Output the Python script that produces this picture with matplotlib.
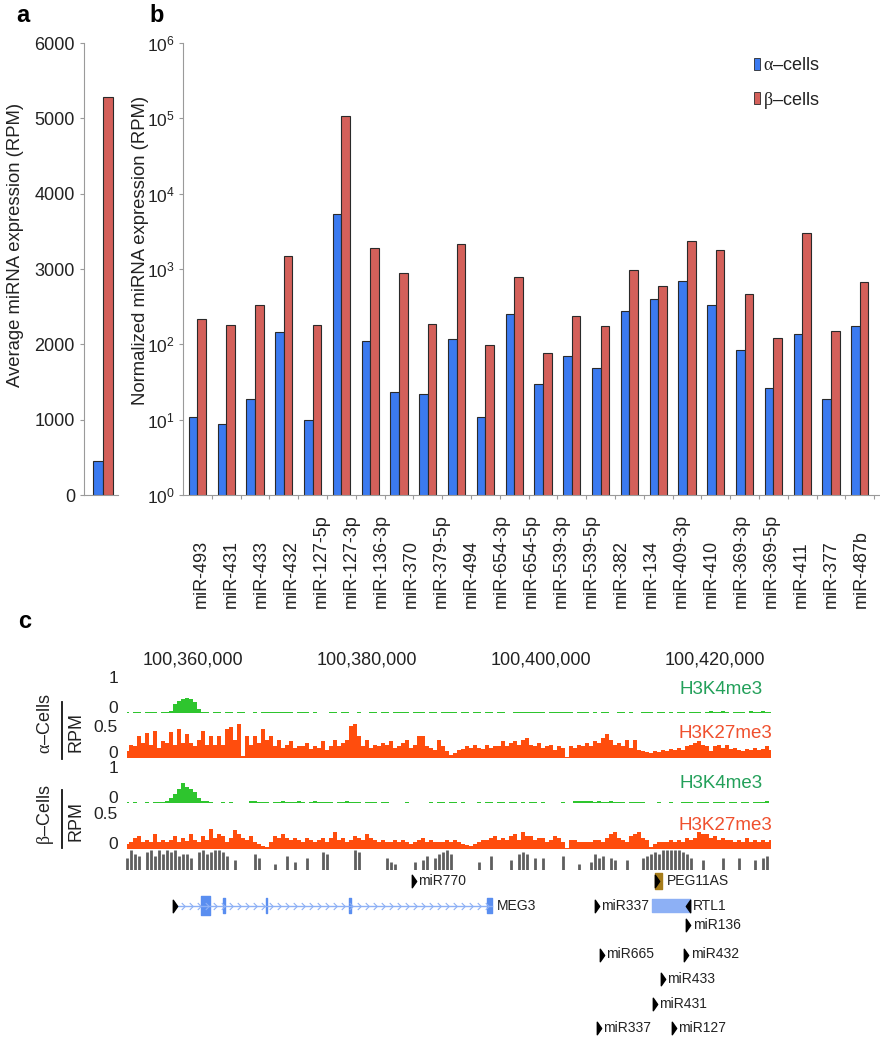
import numpy as np
import matplotlib
matplotlib.use('Agg')
import matplotlib.pyplot as plt
import matplotlib.transforms as mtransforms
from matplotlib.patches import Patch
from matplotlib.lines import Line2D
from matplotlib.path import Path

plt.rcParams['font.family'] = ['Liberation Sans', 'DejaVu Sans']
plt.rcParams['mathtext.fontset'] = 'custom'
plt.rcParams['mathtext.rm'] = 'Liberation Serif'

# ---------------- data ----------------
# panel a
avg_groups = ['alpha', 'beta']
avg_rpm = [455, 5285]

# panel b (24 bar pairs, 23 labels as printed)
mir_labels = ['miR-493', 'miR-431', 'miR-433', 'miR-432', 'miR-127-5p', 'miR-127-3p',
              'miR-136-3p', 'miR-370', 'miR-379-5p', 'miR-494', 'miR-654-3p', 'miR-654-5p',
              'miR-539-3p', 'miR-539-5p', 'miR-382', 'miR-134', 'miR-409-3p', 'miR-410',
              'miR-369-3p', 'miR-369-5p', 'miR-411', 'miR-377', 'miR-487b']
alpha_rpm = [11, 8.7, 18.6, 145, 10, 5450, 110, 23, 22, 116, 11, 254,
             30, 71, 48, 273, 395, 690, 328, 83, 26, 139, 18.6, 174]
beta_rpm = [218, 178, 328, 1480, 178, 109000, 1910, 890, 188, 2150, 99, 780,
            76, 241, 174, 960, 590, 2340, 1780, 472, 123, 3020, 149, 668]

# panel c: binned ChIP-seq signal (RPM), 460 bp bins
START = 100352200
BIN = 460
coord_ticks = [100360000, 100380000, 100400000, 100420000]

h3k4_alpha = [0.04, 0, 0.04, 0.04, 0, 0.04, 0.04, 0.04, 0, 0.04, 0.04,
              0.06, 0.25, 0.33, 0.38, 0.42, 0.38, 0.30, 0.12, 0.04,
              0.04, 0, 0.04, 0.04, 0, 0.04, 0.03, 0, 0.04, 0.04,
              0, 0, 0.04, 0, 0.04, 0.04, 0.03, 0.04, 0.04, 0.04,
              0.04, 0.04, 0, 0.04, 0.04, 0.04, 0, 0.04, 0, 0,
              0, 0.04, 0.04, 0, 0.04, 0.03, 0, 0, 0.04, 0,
              0, 0.04, 0.04, 0, 0.04, 0.04, 0, 0.04, 0.04, 0.03,
              0.04, 0, 0.04, 0.04, 0.04, 0, 0.04, 0.04, 0, 0.04,
              0.04, 0.04,
              0.04, 0, 0.04, 0.04, 0, 0.04, 0.04, 0, 0.04, 0.03,
              0, 0.04, 0.04, 0, 0, 0.04, 0.04, 0.04, 0.04, 0.04,
              0.04, 0.03, 0.04, 0, 0.04, 0.04, 0.04, 0.04, 0.03, 0.04,
              0, 0.04, 0.04, 0.03, 0, 0.04, 0, 0.04, 0.04, 0,
              0, 0.04, 0.03, 0, 0.04, 0, 0, 0.04, 0.04, 0.04,
              0, 0.04, 0.03, 0, 0.04, 0, 0.04, 0.04, 0, 0.04,
              0.04, 0.04, 0, 0.04, 0.05, 0.04, 0.04, 0.05, 0.04, 0,
              0.04, 0.04, 0.04, 0, 0.05, 0.04, 0.04, 0.05, 0.04, 0.04]

h3k27_alpha = [0.11, 0.21, 0.19, 0.35, 0.24, 0.40, 0.21, 0.43, 0.16, 0.27,
               0.24, 0.41, 0.21, 0.45, 0.24, 0.37, 0.24, 0.19, 0.29, 0.43,
               0.21, 0.35, 0.21, 0.35, 0.21, 0.45, 0.48, 0.29, 0.53, 0.03,
               0.35, 0.21, 0.35, 0.24, 0.45, 0.29, 0.35, 0.19, 0.29, 0.16,
               0.21, 0.27, 0.16, 0.19, 0.19, 0.24, 0.14, 0.19, 0.16, 0.27,
               0.13, 0.19, 0.29, 0.19, 0.24, 0.29, 0.51, 0.53, 0.35, 0.19,
               0.29, 0.16, 0.21, 0.19, 0.24, 0.21, 0.27, 0.16, 0.19, 0.24,
               0.29, 0.16, 0.21, 0.35, 0.35, 0.19, 0.16, 0.13, 0.29, 0.19,
               0.11, 0.05, 0.08, 0.13, 0.14, 0.19, 0.16, 0.21, 0.16, 0.14,
               0.20, 0.16, 0.19, 0.19, 0.27, 0.19, 0.24, 0.27, 0.21, 0.29,
               0.32, 0.21, 0.19, 0.24, 0.16, 0.19, 0.21, 0.13, 0.19, 0.16,
               0.02, 0.19, 0.16, 0.21, 0.19, 0.24, 0.19, 0.27, 0.24, 0.32,
               0.37, 0.29, 0.21, 0.24, 0.19, 0.29, 0.16, 0.29, 0.13, 0.11,
               0.09, 0.08, 0.11, 0.09, 0.13, 0.11, 0.14, 0.13, 0.16, 0.13,
               0.19, 0.21, 0.24, 0.27, 0.21, 0.19, 0.11, 0.19, 0.21, 0.16,
               0.21, 0.14, 0.16, 0.13, 0.11, 0.14, 0.13, 0.16, 0.12, 0.14,
               0.19, 0.13]

h3k4_beta = [0.04, 0, 0.04, 0, 0, 0.04, 0, 0.04, 0.04, 0.04,
             0.06, 0.15, 0.25, 0.40, 0.55, 0.45, 0.40, 0.30, 0.15, 0.06, 0.06, 0.04,
             0, 0, 0.04, 0, 0.04, 0, 0, 0, 0,
             0.05, 0.05, 0.04, 0.04, 0.04, 0, 0.04, 0.04, 0.05, 0.04,
             0.04, 0.04, 0.05, 0.04, 0, 0.04, 0.05, 0.04, 0.04, 0.04,
             0.04, 0, 0.04, 0.04, 0.05, 0.04, 0.04, 0.04, 0, 0.04,
             0.04, 0.04, 0, 0.04, 0.03,
             0, 0, 0, 0, 0.04, 0, 0, 0, 0, 0,
             0.04, 0, 0.04, 0.04, 0, 0.04,
             0.04, 0, 0.04, 0, 0, 0, 0.04, 0, 0.04, 0.04,
             0, 0.04, 0.04, 0, 0.04, 0.04, 0, 0.04, 0, 0.04,
             0.04, 0, 0.04, 0, 0, 0, 0, 0.04, 0, 0,
             0.05, 0.05, 0.06, 0.05, 0.05, 0.04, 0.05, 0.04, 0.04, 0.05,
             0.04, 0.04, 0.04, 0, 0.04, 0.04, 0.04, 0.03, 0, 0,
             0, 0.04, 0, 0, 0.04, 0, 0, 0.04, 0.04, 0.04,
             0, 0.04, 0.04, 0.04, 0, 0.04, 0.04, 0.04, 0, 0.04,
             0.04, 0, 0.04, 0.04, 0, 0.04, 0.04, 0.04, 0.05, 0]

h3k27_beta = [0.07, 0.10, 0.15, 0.18, 0.10, 0.12, 0.09, 0.20, 0.10, 0.12,
              0.09, 0.13, 0.18, 0.10, 0.15, 0.11, 0.20, 0.12, 0.10, 0.18,
              0.12, 0.27, 0.15, 0.20, 0.18, 0.10, 0.15, 0.26, 0.20, 0.15,
              0.12, 0.18, 0.10, 0.07, 0.04, 0.03, 0.10, 0.18, 0.15, 0.20,
              0.15, 0.12, 0.15, 0.12, 0.10, 0.15, 0.12, 0.10, 0.12, 0.15,
              0.10, 0.15, 0.23, 0.12, 0.15, 0.10, 0.12, 0.18, 0.15, 0.12,
              0.20, 0.15, 0.12, 0.10, 0.12, 0.10, 0.09, 0.12, 0.10, 0.12,
              0.09, 0.07, 0.10, 0.12, 0.15, 0.10, 0.12, 0.10, 0.09, 0.10,
              0.12, 0.10, 0.12, 0.10, 0.07, 0.05, 0.04, 0.07, 0.09, 0.12,
              0.12, 0.15, 0.18, 0.12, 0.15, 0.12, 0.18, 0.20, 0.12, 0.23,
              0.18, 0.18, 0.12, 0.15, 0.15, 0.10, 0.12, 0.18, 0.15, 0.10,
              0.02, 0.12, 0.12, 0.10, 0.09, 0.10, 0.09, 0.12, 0.12, 0.10,
              0.15, 0.20, 0.23, 0.15, 0.12, 0.10, 0.18, 0.20, 0.23, 0.15,
              0.12, 0.03, 0.07, 0.09, 0.10, 0.09, 0.12, 0.10, 0.12, 0.10,
              0.15, 0.12, 0.15, 0.23, 0.20, 0.20, 0.15, 0.18, 0.12, 0.15,
              0.12, 0.12, 0.10, 0.12, 0.10, 0.15, 0.10, 0.12, 0.10, 0.12,
              0.10, 0.12]

# conservation track (bin index, relative height)
cons_bins = [0, 1, 2, 3, 5, 6, 7, 8, 9, 10, 11, 12, 13, 14, 15, 16, 18, 19, 20, 21,
             22, 23, 24, 25, 27, 32, 33, 37, 40, 42, 45, 49, 50, 57, 58, 65, 66, 67, 72, 74,
             75, 77, 78, 79, 80, 81, 88, 91, 96, 98, 99, 100, 102, 104, 109, 113, 116, 117, 118, 119,
             121, 122, 125, 129, 130, 131, 132, 133, 134, 135, 136, 137, 138, 139, 140, 141, 144, 149, 153, 157,
             159, 160]
cons_height = [0.6, 1, 0.8, 0.7, 0.9, 1, 0.7, 1, 0.8, 1, 0.9, 1, 0.7, 0.8, 0.8, 0.6, 0.9, 1, 0.8, 0.9,
               1, 1, 0.9, 0.7, 0.5, 0.8, 0.6, 0.3, 0.7, 0.4, 0.6, 0.9, 0.8, 1, 0.9, 0.6, 0.4, 0.3, 0.4, 0.5,
               0.7, 0.6, 0.8, 0.9, 1, 0.8, 0.4, 0.7, 0.5, 0.8, 0.9, 0.8, 0.6, 0.6, 0.7, 0.3, 0.4, 0.8, 0.6, 0.7,
               0.6, 0.5, 0.5, 0.6, 0.7, 0.8, 0.9, 0.8, 1, 1, 1, 1, 1, 0.9, 0.8, 0.6, 0.5, 0.6, 0.6, 0.5,
               0.6, 0.7]

# gene annotations
meg3_span = (100358000, 100394360)
meg3_exons = [(100360975, 100361950), (100363500, 100363680), (100368380, 100368560),
              (100377990, 100378170), (100393865, 100394360)]
mirna_names = ['miR770', 'miR337', 'miR136', 'miR665', 'miR432', 'miR433', 'miR431', 'miR337', 'miR127']
mirna_pos = [100385400, 100406460, 100416990, 100407000, 100416770, 100414060, 100413185, 100406675, 100415360]
mirna_row = [0, 1, 1.8, 3, 3, 4, 5, 6, 6]
peg11as_span = (100413185, 100413900)
rtl1_span = (100412800, 100417150)

# ---------------- style ----------------
W, H = 880, 1050
BLUE = '#3b7af0'
RED = '#d4605a'
EDGE = '#2a2a2a'
GRAY = '#9a9a9a'
TXT = '#222222'
GREEN = '#2ec52e'
ORANGE = '#ff4d0d'
GREEN_LBL = '#23a05a'
ORANGE_LBL = '#f0502e'
GENE_BLUE = '#8db0f5'
EXON_BLUE = '#5a8ef0'

fig = plt.figure(figsize=(W / 100, H / 100), dpi=100)


def axes_px(left, top, right, bottom):
    return fig.add_axes([left / W, 1 - bottom / H, (right - left) / W, (bottom - top) / H])


def fy(py):
    return 1 - py / H


def style_axis(ax):
    for s in ['top', 'right']:
        ax.spines[s].set_visible(False)
    for s in ['left', 'bottom']:
        ax.spines[s].set_color(GRAY)
        ax.spines[s].set_linewidth(0.8)
    ax.tick_params(colors=GRAY, labelcolor=TXT, labelsize=13, length=3, width=0.8)


# ---------------- panel a ----------------
ax_a = axes_px(84, 43, 118, 495)
ax_a.bar(np.arange(len(avg_rpm)) - 0.5, avg_rpm, width=1.0, color=[BLUE, RED],
         edgecolor=EDGE, linewidth=0.8)
ax_a.set_xlim(-1.85, 1.55)
ax_a.set_ylim(0, 6000)
ax_a.set_yticks(np.arange(0, 6001, 1000))
ax_a.set_xticks([])
style_axis(ax_a)
fig.text(16 / W, fy(245), 'Average miRNA expression (RPM)', rotation=90,
         ha='center', va='center', fontsize=13.3, color=TXT)

# ---------------- panel b ----------------
ax_b = axes_px(183, 43, 880, 495)
x = np.arange(len(alpha_rpm))
ax_b.bar(x - 0.15, alpha_rpm, width=0.3, color=BLUE, edgecolor=EDGE, linewidth=0.8)
ax_b.bar(x + 0.15, beta_rpm, width=0.3, color=RED, edgecolor=EDGE, linewidth=0.8)
ax_b.set_yscale('log')
ax_b.set_ylim(1, 1e6)
ax_b.set_xlim(-0.5, 23.7)
ax_b.set_yticks([1e0, 1e1, 1e2, 1e3, 1e4, 1e5, 1e6])
ax_b.yaxis.set_minor_locator(matplotlib.ticker.NullLocator())
ax_b.set_xticks(x + 0.5)
ax_b.set_xticklabels([])
style_axis(ax_b)
ax_b.tick_params(axis='y', labelsize=12.5, pad=3)
fig.text(140 / W, fy(250), 'Normalized miRNA expression (RPM)', rotation=90,
         ha='center', va='center', fontsize=13.3, color=TXT)

lab_trans = mtransforms.blended_transform_factory(ax_b.transData, fig.transFigure)
for pos, lab in zip(np.linspace(0.15, 23.05, len(mir_labels)), mir_labels):
    ax_b.text(pos, fy(608), lab, rotation=90, ha='center', va='bottom',
              fontsize=13, color=TXT, transform=lab_trans, clip_on=False)

handles = [Patch(facecolor=BLUE, edgecolor=EDGE, linewidth=0.6),
           Patch(facecolor=RED, edgecolor=EDGE, linewidth=0.6)]
fig.legend(handles, [r'$\mathrm{\alpha}$–cells', r'$\mathrm{\beta}$–cells'],
           loc='upper left', bbox_to_anchor=(738 / W, fy(41)), frameon=False,
           fontsize=13, handlelength=0.3, handleheight=0.6, handletextpad=0.2,
           labelspacing=0.85, labelcolor=TXT)

# panel letters
fig.text(23 / W, fy(16), 'a', fontsize=17, fontweight='bold', ha='center', va='center')
fig.text(157 / W, fy(16), 'b', fontsize=17, fontweight='bold', ha='center', va='center')
fig.text(25 / W, fy(622), 'c', fontsize=17, fontweight='bold', ha='center', va='center')

# ---------------- panel c ----------------
nbin = len(h3k27_alpha)
END = START + nbin * BIN
centers = START + (np.arange(nbin) + 0.5) * BIN


def track_axes(top, bottom, ymax, ticks, ticklabels):
    ax = axes_px(125, top, 773, bottom)
    ax.set_xlim(START, END)
    ax.set_ylim(0, ymax)
    ax.patch.set_alpha(0)
    for s in ax.spines.values():
        s.set_visible(False)
    ax.set_xticks([])
    ax.set_yticks(ticks)
    ax.set_yticklabels(ticklabels)
    ax.tick_params(axis='y', length=0, pad=5, labelsize=12.5, labelcolor=TXT)
    for t in ax.get_yticklabels():
        if t.get_text() == '0':
            t.set_va('baseline')
    return ax


ax_ga = track_axes(677, 713, 1.0, [0, 1], ['0', '1'])
ax_ga.fill_between(centers, 0, h3k4_alpha, step='mid', color=GREEN, lw=0)
ax_oa = track_axes(723, 758, 0.55, [0, 0.5], ['0', '0.5'])
ax_oa.fill_between(centers, 0, h3k27_alpha, step='mid', color=ORANGE, lw=0)
ax_gb = track_axes(767, 803, 1.0, [0, 1], ['0', '1'])
ax_gb.fill_between(centers, 0, h3k4_beta, step='mid', color=GREEN, lw=0)
ax_ob = track_axes(809, 849, 0.55, [0, 0.5], ['0', '0.5'])
ax_ob.fill_between(centers, 0, h3k27_beta, step='mid', color=ORANGE, lw=0)

# coordinate labels
coord_trans = mtransforms.blended_transform_factory(ax_ga.transData, fig.transFigure)
for c in coord_ticks:
    ax_ga.text(c, fy(660), f'{c:,}', ha='center', va='center', fontsize=13,
               color=TXT, transform=coord_trans, clip_on=False)

# track names
for py, px, name, col in [(690, 763, 'H3K4me3', GREEN_LBL), (733, 772, 'H3K27me3', ORANGE_LBL),
                          (783, 763, 'H3K4me3', GREEN_LBL), (826, 772, 'H3K27me3', ORANGE_LBL)]:
    fig.text(px / W, fy(py), name, ha='right', va='center', fontsize=13.5, color=col)

# cell type labels
for cell, ytxt, y0, y1 in [(r'$\mathrm{\alpha}$–Cells', 724, 702, 759),
                           (r'$\mathrm{\beta}$–Cells', 815, 790, 848)]:
    fig.text(45 / W, fy(ytxt), cell, rotation=90, ha='center', va='center',
             fontsize=13, color=TXT)
    fig.add_artist(Line2D([62 / W, 62 / W], [fy(y0), fy(y1)], color='#111111', lw=1.3))
    fig.text(76 / W, fy((y0 + y1) / 2 + 2), 'RPM', rotation=90, ha='center',
             va='center', fontsize=13, color=TXT)

# conservation
ax_cons = axes_px(125, 850, 773, 870)
ax_cons.set_xlim(START, END)
ax_cons.set_ylim(0, 1)
ax_cons.axis('off')
ax_cons.vlines(START + (np.array(cons_bins) + 0.5) * BIN, 0, cons_height,
               color='#5e5e5e', lw=2.0)

# gene annotations
ax_g = axes_px(125, 868.75, 773, 1040.25)
ax_g.set_xlim(START, END)
ax_g.set_ylim(6.5, -0.5)
ax_g.axis('off')

right_tri = Path([(-0.35, -1), (0.35, 0), (-0.35, 1), (-0.35, -1)],
                 [Path.MOVETO, Path.LINETO, Path.LINETO, Path.CLOSEPOLY])
left_tri = Path([(0.35, -1), (-0.35, 0), (0.35, 1), (0.35, -1)],
                [Path.MOVETO, Path.LINETO, Path.LINETO, Path.CLOSEPOLY])
chevron = Path([(-0.5, 1), (0.5, 0), (-0.5, -1)], [Path.MOVETO, Path.LINETO, Path.LINETO])

# MEG3
chev_x = np.arange(meg3_span[0] + 900, meg3_span[1] - 300, 920)
ax_g.plot(meg3_span, [1, 1], color=GENE_BLUE, lw=1.0)
ax_g.plot(chev_x, np.ones_like(chev_x), ls='none', marker=chevron, ms=5,
          mfc='none', mec=GENE_BLUE, mew=0.8)
for i, (s, e) in enumerate(meg3_exons):
    h = 0.75 if i == 0 else 0.6
    ax_g.broken_barh([(s, e - s)], (1 - h / 2, h), color=EXON_BLUE)
ax_g.plot([meg3_span[0]], [1], ls='none', marker=right_tri, ms=9, color='black')
ax_g.annotate('MEG3', (meg3_span[1], 1), xytext=(4, 0), textcoords='offset points',
              va='center', fontsize=10, color=TXT)

# PEG11AS and RTL1
ax_g.broken_barh([(peg11as_span[0], peg11as_span[1] - peg11as_span[0])], (-0.33, 0.66),
                 color='#a67c1a')
ax_g.plot([peg11as_span[0] + 250], [0], ls='none', marker=right_tri, ms=9, color='black')
ax_g.annotate('PEG11AS', (peg11as_span[1], 0), xytext=(4, 0), textcoords='offset points',
              va='center', fontsize=10, color=TXT)
ax_g.broken_barh([(rtl1_span[0], rtl1_span[1] - rtl1_span[0])], (0.75, 0.5), color=GENE_BLUE)
ax_g.plot([rtl1_span[1] - 200], [1], ls='none', marker=left_tri, ms=9, color='black')
ax_g.annotate('RTL1', (rtl1_span[1], 1), xytext=(2, 0), textcoords='offset points',
              va='center', fontsize=10, color=TXT)

# miRNAs
for name, pos, row in zip(mirna_names, mirna_pos, mirna_row):
    ax_g.plot([pos], [row], ls='none', marker=right_tri, ms=9, color='black')
    ax_g.annotate(name, (pos, row), xytext=(3, 0), textcoords='offset points',
                  va='center', fontsize=10, color=TXT)

fig.savefig('out.png', dpi=100)
